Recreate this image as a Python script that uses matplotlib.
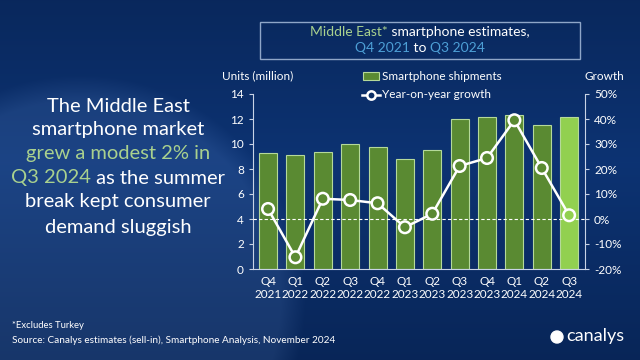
import numpy as np
import matplotlib
matplotlib.use("Agg")
import matplotlib.pyplot as plt
from matplotlib.patches import Rectangle, Circle
from matplotlib.lines import Line2D

plt.rcParams['font.family'] = ['Lato', 'DejaVu Sans']

# Data
quarters = ["Q4\n2021", "Q1\n2022", "Q2\n2022", "Q3\n2022", "Q4\n2022", "Q1\n2023",
            "Q2\n2023", "Q3\n2023", "Q4\n2023", "Q1\n2024", "Q2\n2024", "Q3\n2024"]
shipments = [9.3, 9.1, 9.4, 10.0, 9.8, 8.8, 9.5, 12.0, 12.2, 12.3, 11.5, 12.2]
growth = [4.0, -15.3, 8.1, 7.6, 6.3, -3.3, 2.1, 21.2, 24.4, 39.5, 20.4, 1.5]

bar_col = "#5a8a32"
last_col = "#92d050"
edge_col = "#b5d99a"
bg_col = "#0b2e66"
hl_green = "#a9d18e"
hl_blue = "#4d9fd6"

fig = plt.figure(figsize=(6.4, 3.6), dpi=100)

# background with gradient and a lighter circular swoosh
bg = fig.add_axes([0, 0, 1, 1], zorder=-10)
h, w = 360, 640
yy, xx = np.mgrid[0:h, 0:w]
top = np.array([0.03, 0.14, 0.33])
mid = np.array([0.05, 0.20, 0.45])
t = yy / h
base = np.zeros((h, w, 3))
for c in range(3):
    base[..., c] = top[c] + (mid[c] - top[c]) * np.clip(1 - np.abs(t - 0.45) * 1.6, 0, 1)
d = np.sqrt((xx - 80) ** 2 + (yy - 300) ** 2)
light = np.clip((225 - d) / 25, 0, 1) * 0.06
base = base + light[..., None] * np.array([1.0, 1.1, 1.2])
bg.imshow(np.clip(base, 0, 1), extent=[0, w, h, 0], aspect="auto")
bg.set_xlim(0, w)
bg.set_ylim(h, 0)
bg.axis("off")

renderer = fig.canvas.get_renderer()


def centered_line(cx, y, parts, size):
    # draw a line made of differently coloured pieces, centred on cx
    texts = [bg.text(0, y, s, color=col, fontsize=size, ha="left", va="center")
             for s, col in parts]
    widths = []
    for tx in texts:
        bb = tx.get_window_extent(renderer)
        widths.append(bb.width)
    total = sum(widths)
    x0 = cx - total / 2
    for tx, wd in zip(texts, widths):
        tx.set_x(x0)
        x0 += wd


# title box
bg.add_patch(Rectangle((260, 22), 320, 37, fill=False, edgecolor="#8fa6c8", lw=1))
centered_line(420, 32, [("Middle East*", hl_green), (" smartphone estimates,", "white")], 10)
centered_line(420, 48, [("Q4 2021", hl_blue), (" to ", "white"), ("Q3 2024", hl_blue)], 10)

# headline text on the left
hs = 14.5
centered_line(118, 106, [("The Middle East", "white")], hs)
centered_line(118, 130, [("smartphone market", "white")], hs)
centered_line(118, 154, [("grew a modest 2% in", hl_green)], hs)
centered_line(118, 178, [("Q3 2024", hl_green), (" as the summer", "white")], hs)
centered_line(118, 202, [("break kept consumer", "white")], hs)
centered_line(118, 227, [("demand sluggish", "white")], hs)

# footnotes and logo
bg.text(12, 325, "*Excludes Turkey", color="white", fontsize=6.8, ha="left", va="center")
bg.text(12, 340, "Source: Canalys estimates (sell-in), Smartphone Analysis, November 2024",
        color="white", fontsize=7.2, ha="left", va="center")
bg.add_patch(Circle((557, 337), 6, color="white"))
bg.text(566, 336, "canalys", color="white", fontsize=13, ha="left", va="center")

# axis titles and legend
bg.text(222, 76, "Units (million)", color="white", fontsize=8.5, ha="left", va="center")
bg.text(604, 76, "Growth", color="white", fontsize=8.5, ha="center", va="center")
bg.add_patch(Rectangle((363, 72), 16, 8, facecolor=bar_col, edgecolor=edge_col, lw=0.8))
bg.text(382, 76, "Smartphone shipments", color="white", fontsize=8.5, ha="left", va="center")
bg.add_line(Line2D([362, 380], [95, 95], color="white", lw=1.8))
bg.plot([371], [95], "o", ms=6, mfc=bg_col, mec="white", mew=1.8)
bg.text(382, 95, "Year-on-year growth", color="white", fontsize=8.5, ha="left", va="center")

# main chart
ax = fig.add_axes([253 / 640, 91 / 360, 332 / 640, 175 / 360])
ax.patch.set_alpha(0)
x = np.arange(len(quarters))
colors = [bar_col] * (len(x) - 1) + [last_col]
ax.bar(x, shipments, width=0.66, color=colors, edgecolor=edge_col, lw=0.8, zorder=2)
ax.set_xlim(-0.55, len(x) - 0.42)
ax.set_ylim(0, 14)
ax.set_yticks(range(0, 15, 2))
ax.set_xticks(x)
ax.set_xticklabels(quarters)

ax2 = ax.twinx()
ax2.set_ylim(-20, 50)
ax2.set_yticks(range(-20, 51, 10))
ax2.set_yticklabels([f"{v}%" for v in range(-20, 51, 10)])
ax2.axhline(0, color="white", lw=0.8, ls=(0, (3, 2)), zorder=1)
ax2.plot(x, growth, color="white", lw=1.8, zorder=3)
ax2.scatter(x, growth, s=70, facecolors=colors, edgecolors="white", linewidths=1.8, zorder=4)

for a in (ax, ax2):
    for sp in a.spines.values():
        sp.set_visible(False)
    a.tick_params(colors="white", labelsize=8.5, length=3, width=0.8)
    a.tick_params(axis="y", color="#c8d3e6")
ax.spines["left"].set_visible(True)
ax.spines["left"].set_color("#c8d3e6")
ax.spines["bottom"].set_visible(True)
ax.spines["bottom"].set_color("#c8d3e6")
ax2.spines["right"].set_visible(True)
ax2.spines["right"].set_color("#c8d3e6")
ax.tick_params(axis="x", length=0, pad=5)

fig.savefig("out.png", dpi=100, facecolor=bg_col)
